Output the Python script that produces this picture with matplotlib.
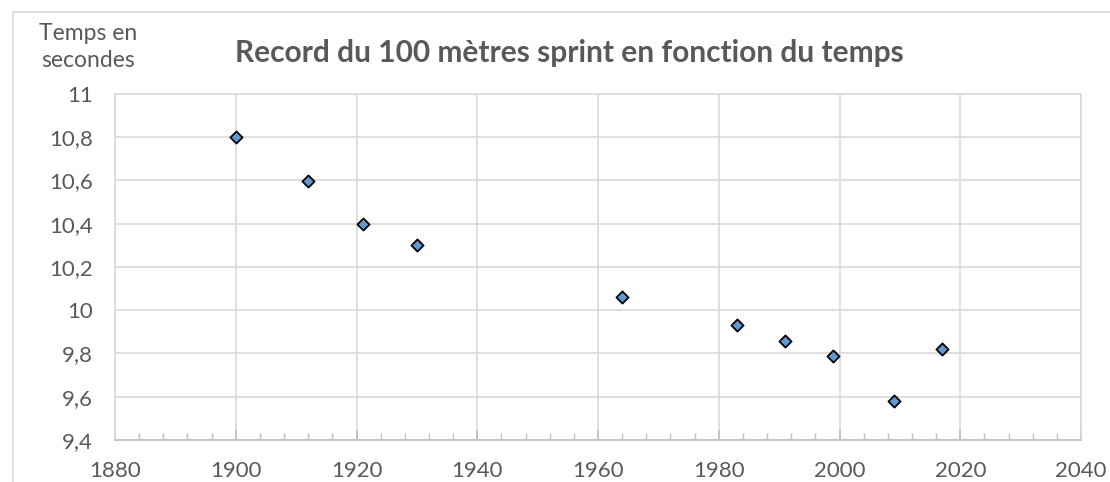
import matplotlib.pyplot as plt
from matplotlib.ticker import MultipleLocator, FuncFormatter
from matplotlib.patches import Rectangle

plt.rcParams['font.family'] = ['Lato', 'DejaVu Sans']

annees = [1900, 1912, 1921, 1930, 1964, 1983, 1991, 1999, 2009, 2017]
temps = [10.8, 10.6, 10.4, 10.3, 10.06, 9.93, 9.86, 9.79, 9.58, 9.82]

gris_txt = '#595959'
gris_grid = '#d9d9d9'

fig = plt.figure(figsize=(11.1, 4.82), dpi=100)
ax = fig.add_axes([115/1110, 1 - 440/482, (1081 - 115)/1110, (440 - 94)/482])

# cadre du graphique
fig.patches.append(Rectangle((13/1110, -0.1), 1.2, 1 - 12/482 + 0.1,
                             transform=fig.transFigure, fill=False,
                             edgecolor=gris_grid, linewidth=1.2))

ax.scatter(annees, temps, marker='D', s=38, color='#5b9bd5',
           edgecolors='black', linewidths=1.3, zorder=3)

ax.set_xlim(1880, 2040)
ax.set_ylim(9.4, 11)
ax.xaxis.set_major_locator(MultipleLocator(20))
ax.xaxis.set_minor_locator(MultipleLocator(4))
ax.yaxis.set_major_locator(MultipleLocator(0.2))
ax.yaxis.set_major_formatter(FuncFormatter(lambda v, p: ('%g' % round(v, 1)).replace('.', ',')))

ax.grid(True, which='major', color=gris_grid, linewidth=1.2)
ax.set_axisbelow(True)
for s in ax.spines.values():
    s.set_color(gris_grid)
    s.set_linewidth(1.2)
ax.spines['bottom'].set_color('#bfbfbf')

ax.tick_params(axis='x', which='both', direction='in', color='#bfbfbf',
               labelsize=16, labelcolor=gris_txt, pad=15)
ax.tick_params(axis='x', which='major', length=7, width=1.2)
ax.tick_params(axis='x', which='minor', length=5, width=1)
ax.tick_params(axis='y', length=0, labelsize=16, labelcolor=gris_txt, pad=16)

fig.text(88/1110, 1 - 47/482, 'Temps en\nsecondes', ha='center', va='center',
         fontsize=16.5, color=gris_txt, linespacing=1.35)
fig.text(569/1110, 1 - 53/482, 'Record du 100 mètres sprint en fonction du temps',
         ha='center', va='center', fontsize=21.5, fontweight='bold', color=gris_txt)

fig.savefig('out.png', dpi=100)
